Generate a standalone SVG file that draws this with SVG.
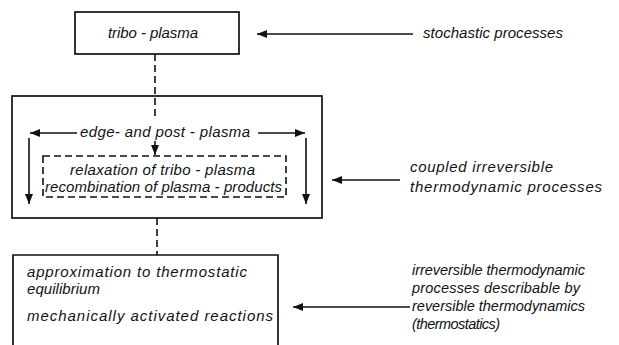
<svg xmlns="http://www.w3.org/2000/svg" width="619" height="345" viewBox="0 0 619 345">
<style>
text{font-family:"Liberation Sans",Arial,sans-serif;font-style:italic;font-size:15px;fill:#111}
.sm{font-size:14.5px}
.box{fill:none;stroke:#111;stroke-width:1.7}
.ln{fill:none;stroke:#111;stroke-width:1.6}
.dash{fill:none;stroke:#111;stroke-width:1.6;stroke-dasharray:7,4}
</style>
<defs>
<marker id="ah" markerUnits="userSpaceOnUse" markerWidth="12" markerHeight="10" refX="10" refY="4" orient="auto">
<path d="M0,0 L10,4 L0,8 Z" fill="#111"/>
</marker>
</defs>
<rect width="619" height="345" fill="#fff"/>
<g id="node-tribo">
<rect class="box" x="75" y="12" width="164" height="42"/>
<text x="108" y="38" textLength="90" lengthAdjust="spacing">tribo - plasma</text>
</g>
<g id="node-stochastic">
<text x="423" y="38" textLength="140" lengthAdjust="spacing">stochastic processes</text>
</g>
<g id="node-edge">
<rect class="box" x="12" y="96" width="310" height="122"/>
<text x="80" y="137" textLength="170" lengthAdjust="spacing">edge- and post - plasma</text>
</g>
<g id="node-relaxation">
<rect class="dash" x="43" y="156" width="243" height="41"/>
<text x="70" y="175" textLength="185" lengthAdjust="spacing">relaxation of tribo - plasma</text>
<text x="45" y="192" textLength="237" lengthAdjust="spacing">recombination of plasma - products</text>
</g>
<g id="node-coupled">
<text x="410" y="172" textLength="143" lengthAdjust="spacing">coupled irreversible</text>
<text x="410" y="192" textLength="192" lengthAdjust="spacing">thermodynamic processes</text>
</g>
<g id="node-equilibrium">
<path class="box" d="M13,345 V255 H278 V345"/>
<text x="27" y="277" textLength="220" lengthAdjust="spacing">approximation to thermostatic</text>
<text x="27" y="294" textLength="73" lengthAdjust="spacing">equilibrium</text>
<text x="27" y="321" textLength="246" lengthAdjust="spacing">mechanically activated reactions</text>
</g>
<g id="node-irreversible" class="sm">
<text class="sm" x="412" y="275" textLength="173" lengthAdjust="spacing">irreversible thermodynamic</text>
<text class="sm" x="412" y="293" textLength="168" lengthAdjust="spacing">processes describable by</text>
<text class="sm" x="412" y="311" textLength="173" lengthAdjust="spacing">reversible thermodynamics</text>
<text class="sm" x="412" y="329" textLength="88" lengthAdjust="spacing">(thermostatics)</text>
</g>
<g id="connectors">
<line class="ln" x1="413" y1="34" x2="257" y2="34" marker-end="url(#ah)"/>
<line class="dash" x1="155" y1="54" x2="155" y2="118"/>
<line class="ln" x1="77" y1="133" x2="30" y2="133" marker-end="url(#ah)"/>
<line class="ln" x1="258" y1="133" x2="305" y2="133" marker-end="url(#ah)"/>
<line class="ln" x1="29" y1="138" x2="29" y2="204" marker-end="url(#ah)"/>
<line class="ln" x1="306" y1="138" x2="306" y2="204" marker-end="url(#ah)"/>
<line class="ln" x1="155" y1="141" x2="155" y2="155" marker-end="url(#ah)"/>
<line class="ln" x1="400" y1="180" x2="332" y2="180" marker-end="url(#ah)"/>
<line class="dash" x1="157" y1="218" x2="157" y2="255"/>
<line class="ln" x1="410" y1="307" x2="293" y2="307" marker-end="url(#ah)"/>
</g>
</svg>
